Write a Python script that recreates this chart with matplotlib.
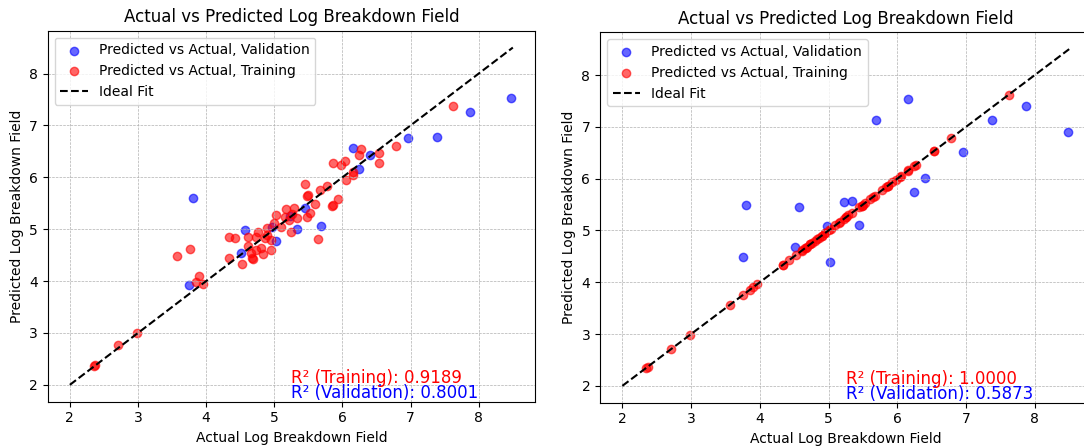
import matplotlib
matplotlib.use("Agg")
import matplotlib.pyplot as plt

# ---------------- data ----------------
train_actual = [2.35, 2.37, 2.71, 2.98, 3.57, 3.76, 3.85, 3.90, 3.96, 4.33,
                4.34, 4.42, 4.52, 4.61, 4.62, 4.66, 4.67, 4.69, 4.73, 4.73,
                4.76, 4.80, 4.83, 4.86, 4.90, 4.90, 4.95, 4.95, 5.00, 5.03,
                5.10, 5.15, 5.17, 5.22, 5.25, 5.26, 5.29, 5.34, 5.45, 5.48,
                5.50, 5.48, 5.53, 5.60, 5.64, 5.67, 5.78, 5.84, 5.86, 5.93,
                5.86, 5.98, 6.04, 6.05, 6.15, 6.16, 6.24, 6.27, 6.53, 6.54,
                6.78, 7.62]
train_pred_left = [2.36, 2.38, 2.76, 3.00, 4.48, 4.61, 3.99, 4.09, 3.95, 4.45,
                   4.85, 4.83, 4.32, 4.85, 4.68, 4.54, 4.44, 4.43, 4.60, 4.84,
                   4.95, 4.63, 4.52, 4.83, 5.02, 4.89, 4.60, 4.79, 5.11, 5.27,
                   5.05, 5.24, 5.38, 5.18, 4.95, 5.30, 5.40, 5.21, 5.88, 5.64,
                   5.66, 5.24, 5.32, 5.49, 4.81, 5.75, 5.84, 5.45, 5.47, 5.59,
                   6.27, 6.24, 6.31, 5.95, 6.11, 6.04, 6.43, 6.54, 6.46, 6.28,
                   6.60, 7.37]
train_pred_right = [2.35, 2.37, 2.71, 2.98, 3.57, 3.76, 3.85, 3.90, 3.96, 4.33,
                    4.34, 4.42, 4.52, 4.61, 4.62, 4.66, 4.67, 4.69, 4.73, 4.73,
                    4.76, 4.80, 4.83, 4.86, 4.90, 4.90, 4.95, 4.95, 5.00, 5.03,
                    5.10, 5.15, 5.17, 5.22, 5.25, 5.26, 5.29, 5.34, 5.45, 5.48,
                    5.50, 5.48, 5.53, 5.60, 5.64, 5.67, 5.78, 5.84, 5.86, 5.93,
                    5.86, 5.98, 6.04, 6.05, 6.15, 6.16, 6.24, 6.27, 6.53, 6.54,
                    6.78, 7.62]

val_actual = [3.80, 3.75, 4.57, 4.51, 4.97, 5.02, 5.23, 5.34, 5.45, 5.69,
              6.16, 6.24, 6.41, 6.96, 7.38, 7.87, 8.48]
val_pred_left = [5.61, 3.93, 4.98, 4.55, 5.04, 4.77, 5.25, 5.00, 5.41, 5.06,
                 6.56, 6.16, 6.42, 6.76, 6.78, 7.26, 7.53]
val_pred_right = [5.50, 4.48, 5.46, 4.68, 5.09, 4.40, 5.55, 5.56, 5.10, 7.13,
                  7.53, 5.75, 6.02, 6.51, 7.13, 7.40, 6.91]

ideal_line = [2.0, 8.5]

r2_train = [0.9189, 1.0000]
r2_val = [0.8001, 0.5873]

title = "Actual vs Predicted Log Breakdown Field"
xlabel = "Actual Log Breakdown Field"
ylabel = "Predicted Log Breakdown Field"

# ---------------- figure ----------------
fig = plt.figure(figsize=(10.84, 4.47), dpi=100)
W, H = 1084, 447
ax_l = fig.add_axes([47.7 / W, (H - 401.7) / H, 487.3 / W, 371.0 / H])
ax_r = fig.add_axes([600.0 / W, (H - 402.7) / H, 491.5 / W, 370.4 / H])

panels = [
    (ax_l, train_pred_left, val_pred_left, r2_train[0], r2_val[0]),
    (ax_r, train_pred_right, val_pred_right, r2_train[1], r2_val[1]),
]

for ax, tp, vp, r2t, r2v in panels:
    ax.scatter(val_actual, vp, color="blue", alpha=0.6,
               label="Predicted vs Actual, Validation")
    ax.scatter(train_actual, tp, color="red", alpha=0.6,
               label="Predicted vs Actual, Training")
    ax.plot(ideal_line, ideal_line, "k--", lw=1.5, label="Ideal Fit")
    ax.set_title(title, fontsize=12)
    ax.set_xlabel(xlabel, fontsize=10)
    ax.set_ylabel(ylabel, fontsize=10)
    ax.grid(True, linestyle="--", linewidth=0.5)
    ax.legend(loc="upper left", fontsize=10)
    ax.text(0.5, 0.05, f"R² (Training): {r2t:.4f}", transform=ax.transAxes,
            fontsize=12, color="red")
    ax.text(0.5, 0.01, f"R² (Validation): {r2v:.4f}", transform=ax.transAxes,
            fontsize=12, color="blue")

fig.savefig("out.png", dpi=100)
